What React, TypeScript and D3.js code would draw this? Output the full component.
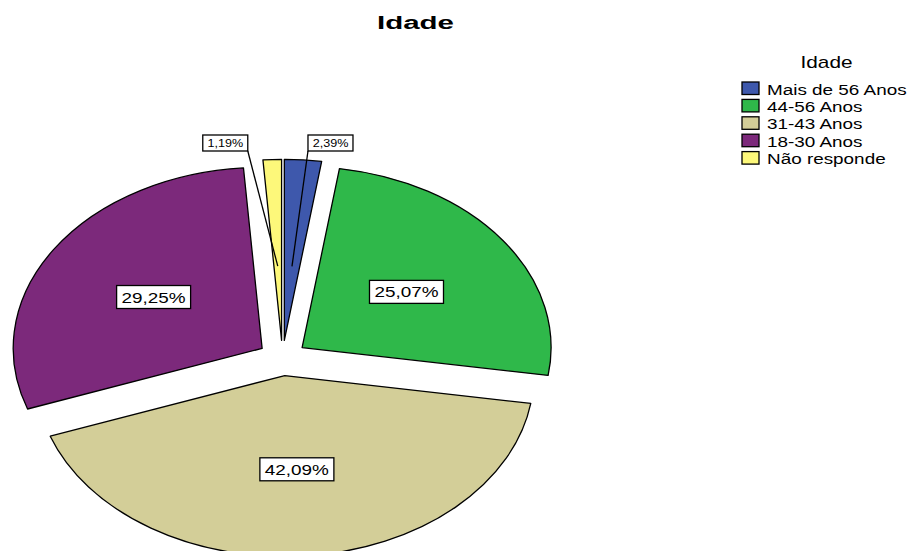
import React from "react";
import * as d3 from "d3";

const categories = ["Mais de 56 Anos", "44-56 Anos", "31-43 Anos", "18-30 Anos", "Não responde"];
const values = [2.39, 25.07, 42.09, 29.25, 1.19];
const colors = ["#3e58ac", "#2fb84a", "#d3ce98", "#7c297b", "#fdf87a"];
const chartTitle = "Idade";
const legendTitle = "Idade";

const W = 914;
const H = 551;
const CX = 282.5;
const CY = 358;
const RX = 249;
const RY = 181;
const EXPLODE = 0.0976;
const SX = 1.26;
const FONT = "'Liberation Sans', Arial, sans-serif";

const fmt = (v: number) => d3.format(".2f")(v).replace(".", ",") + "%";

export default function App() {
  const pie = d3.pie<number>().sort(null).startAngle(0).endAngle(2 * Math.PI);
  const arcs = pie(values);
  const arcGen = d3.arc<d3.PieArcDatum<number>>().innerRadius(0).outerRadius(1);

  const slices = arcs.map((a, i) => {
    const mid = (a.startAngle + a.endAngle) / 2;
    const ux = Math.sin(mid);
    const uy = -Math.cos(mid);
    const ax = CX + EXPLODE * ux * RX;
    const ay = CY + EXPLODE * uy * RY;
    return { a, i, mid, ux, uy, ax, ay };
  });

  return (
    <svg width={W} height={H} style={{ position: "absolute", left: 0, top: 0, background: "#fff" }} fontFamily={FONT}>
      <rect x={0} y={0} width={W} height={H} fill="#fff" />
      <text x={377} y={29} fontSize={18} fontWeight="bold" textLength={77} lengthAdjust="spacingAndGlyphs">
        {chartTitle}
      </text>
      {slices.map((s) => (
        <path
          key={"s" + s.i}
          d={arcGen(s.a) || ""}
          transform={`translate(${s.ax},${s.ay}) scale(${RX},${RY})`}
          fill={colors[s.i]}
          stroke="#000"
          strokeWidth={1.3}
          vectorEffect="non-scaling-stroke"
          strokeLinejoin="round"
        />
      ))}
      {slices.map((s) => {
        const v = values[s.i];
        if (v >= 5) {
          const f = 0.52;
          const lx = s.ax + s.ux * RX * f;
          const ly = s.ay + s.uy * RY * f;
          const txt = fmt(v);
          const w = 64 + 10;
          return (
            <g key={"l" + s.i}>
              <rect x={lx - w / 2} y={ly - 11.5} width={w} height={23} fill="#fff" stroke="#000" strokeWidth={1.3} />
              <text transform={`translate(${lx},${ly + 5.5}) scale(${SX},1)`} textAnchor="middle" fontSize={15}>
                {txt}
              </text>
            </g>
          );
        }
        // small slices: boxed label with leader line
        const f = 0.41;
        const px = s.ax + s.ux * RX * f;
        const py = s.ay + s.uy * RY * f;
        const right = s.ux >= 0;
        const bw = 45;
        const bh = 16;
        const by = 135;
        const bx = right ? px + 16 : px - 75;
        const cornerX = right ? bx : bx + bw;
        return (
          <g key={"l" + s.i}>
            <line x1={cornerX} y1={by + bh} x2={px} y2={py} stroke="#000" strokeWidth={1.3} />
            <rect x={bx} y={by} width={bw} height={bh} fill="#fff" stroke="#000" strokeWidth={1.3} />
            <text transform={`translate(${bx + bw / 2},${by + bh / 2 + 3.7}) scale(${SX},1)`} textAnchor="middle" fontSize={10}>
              {fmt(v)}
            </text>
          </g>
        );
      })}
      <text transform={`translate(826.5,68) scale(1.3,1)`} textAnchor="middle" fontSize={16}>
        {legendTitle}
      </text>
      {categories.map((c, i) => {
        const y = 82 + i * 17.4;
        return (
          <g key={"g" + i}>
            <rect x={742} y={y} width={17} height={12.5} fill={colors[i]} stroke="#000" strokeWidth={1.3} />
            <text transform={`translate(767,${y + 12.5}) scale(${SX},1)`} fontSize={15}>
              {c}
            </text>
          </g>
        );
      })}
    </svg>
  );
}
